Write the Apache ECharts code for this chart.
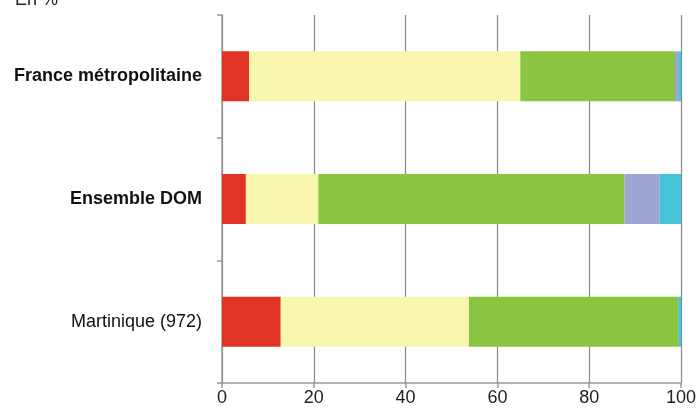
<!DOCTYPE html>
<html>
<head>
<meta charset="utf-8">
<script src="https://cdn.jsdelivr.net/npm/echarts@6/dist/echarts.min.js"></script>
<style>
    html, body {margin: 0; padding: 0; background: #fff;}
    #chart {width: 699px; height: 410px;}
</style>
</head>
<body>
<div id="chart"></div>
<script>
// catégories (de haut en bas)
const categories = ['France métropolitaine', 'Ensemble DOM', 'Martinique (972)']
const boldCats = ['France métropolitaine', 'Ensemble DOM']

// parts en %, une série par couleur
const seriesNames = ['s1', 's2', 's3', 's4', 's5']
const redVals = [5.9, 5.2, 12.8]
const yellowVals = [59.1, 15.8, 41.0]
const greenVals = [33.7, 66.7, 45.6]
const purpleVals = [0.7, 7.6, 0.0]
const cyanVals = [0.6, 4.7, 0.6]

const xTicks = [0, 20, 40, 60, 80, 100]

const colors = ['#e03424', '#f8f5ae', '#8bc53f', '#a0a6d3', '#47c4d9']
const allVals = [redVals, yellowVals, greenVals, purpleVals, cyanVals]

const chart = echarts.init(document.getElementById('chart'))

const option = {
    animation: false,
    textStyle: {fontFamily: 'Liberation Sans, Arial, sans-serif'},
    title: {
        text: 'En %',
        left: 10,
        top: -14,
        textStyle: {fontSize: 18, fontWeight: 'normal', color: '#222'}
    },
    grid: {left: 222, right: 17, top: 15, bottom: 27},
    xAxis: {
        type: 'value',
        min: 0,
        max: 100,
        interval: 20,
        axisLine: {show: true, lineStyle: {color: '#999', width: 1.5}},
        axisTick: {show: true, length: 5, lineStyle: {color: '#999', width: 1.5}},
        splitLine: {show: true, lineStyle: {color: '#888', width: 1.2}},
        axisLabel: {
            fontSize: 18, color: '#222', margin: 6,
            formatter: v => xTicks.includes(v) ? String(v) : ''
        }
    },
    yAxis: {
        type: 'category',
        inverse: true,
        data: categories,
        axisLine: {show: true, lineStyle: {color: '#999', width: 1.5}},
        axisTick: {show: true, length: 5, lineStyle: {color: '#999', width: 1.5}},
        axisLabel: {
            margin: 20,
            fontSize: 18,
            color: '#111',
            formatter: v => boldCats.includes(v) ? '{b|' + v + '}' : v,
            rich: {b: {fontWeight: 'bold', fontSize: 18, color: '#111'}}
        }
    },
    series: seriesNames.map((name, i) => ({
        name: name,
        type: 'bar',
        stack: 'total',
        barWidth: 50,
        itemStyle: {color: colors[i]},
        data: allVals[i]
    }))
}

chart.setOption(option)
</script>
</body>
</html>
